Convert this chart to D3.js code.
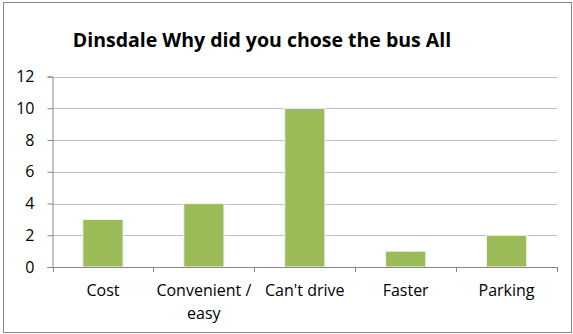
<!DOCTYPE html>
<html><head><meta charset="utf-8">
<script src="https://cdn.jsdelivr.net/npm/d3@7"></script>
<style>body{margin:0;background:#fff}svg{display:block}</style>
</head><body>
<script>
const categories = ["Cost", "Convenient / easy", "Can't drive", "Faster", "Parking"];
const values = [3, 4, 10, 1, 2];
const yTicks = [0, 2, 4, 6, 8, 10, 12];
const title = "Dinsdale Why did you chose the bus All";

const W = 573, H = 334;
const m = {left: 52.5, right: 16, top: 76.5, bottom: 67};
const svg = d3.select("body").append("svg").attr("width", W).attr("height", H);
svg.append("rect").attr("x", 3.5).attr("y", 2.5).attr("width", W - 5).attr("height", H - 4)
  .attr("fill", "#fff").attr("stroke", "#888").attr("stroke-width", 1);

const font = "Open Sans, Liberation Sans, sans-serif";
svg.append("text").attr("x", 262).attr("y", 47).attr("text-anchor", "middle")
  .attr("font-family", font).attr("font-weight", "bold").attr("font-size", 19.5)
  .attr("fill", "#000").text(title);

const x = d3.scaleBand().domain(categories).range([m.left, W - m.right]).paddingInner(0.6).paddingOuter(0.3);
const xb = d3.scaleBand().domain(categories).range([m.left, W - m.right]);
const y = d3.scaleLinear().domain([0, 12]).range([H - m.bottom, m.top]);

// gridlines
svg.append("g").selectAll("line").data(yTicks.filter(d => d > 0)).join("line")
  .attr("x1", m.left).attr("x2", W - m.right)
  .attr("y1", d => Math.round(y(d)) + 0.5).attr("y2", d => Math.round(y(d)) + 0.5)
  .attr("stroke", "#c0c0c0").attr("stroke-width", 1);

// bars
svg.append("g").selectAll("rect").data(categories).join("rect")
  .attr("x", (d) => x(d)).attr("width", x.bandwidth())
  .attr("y", (d, i) => y(values[i])).attr("height", (d, i) => y(0) - y(values[i]))
  .attr("fill", "#9BBB59").attr("stroke", "#f2f2f2").attr("stroke-width", 1.2);

// y axis
const yAxis = d3.axisLeft(y).tickValues(yTicks).tickSize(5).tickPadding(13);
const gy = svg.append("g").attr("transform", `translate(${m.left},0)`).call(yAxis);
gy.select(".domain").attr("stroke", "#868686");
gy.selectAll(".tick line").attr("stroke", "#868686");
gy.selectAll(".tick text").attr("font-family", font).attr("font-size", 16).attr("fill", "#000");

// x axis
const xAxis = d3.axisBottom(xb).tickSize(0).tickPadding(18);
const gx = svg.append("g").attr("transform", `translate(0,${H - m.bottom})`).call(xAxis);
gx.select(".domain").attr("stroke", "#868686");
gx.selectAll(".tick text").attr("font-family", font).attr("font-size", 16).attr("fill", "#000")
  .each(function(d) {
    const t = d3.select(this);
    if (d === "Convenient / easy") {
      t.text(null);
      t.append("tspan").attr("x", 0).attr("dy", "0.71em").text("Convenient /");
      t.append("tspan").attr("x", 0).attr("dy", "1.44em").text("easy");
      t.attr("dy", null);
    }
  });
// category boundary ticks
const bounds = categories.map(c => xb(c)).concat([W - m.right]);
svg.append("g").selectAll("line").data(bounds).join("line")
  .attr("x1", d => Math.round(d) + 0.5).attr("x2", d => Math.round(d) + 0.5)
  .attr("y1", H - m.bottom).attr("y2", H - m.bottom + 5)
  .attr("stroke", "#868686");
</script>
</body></html>
